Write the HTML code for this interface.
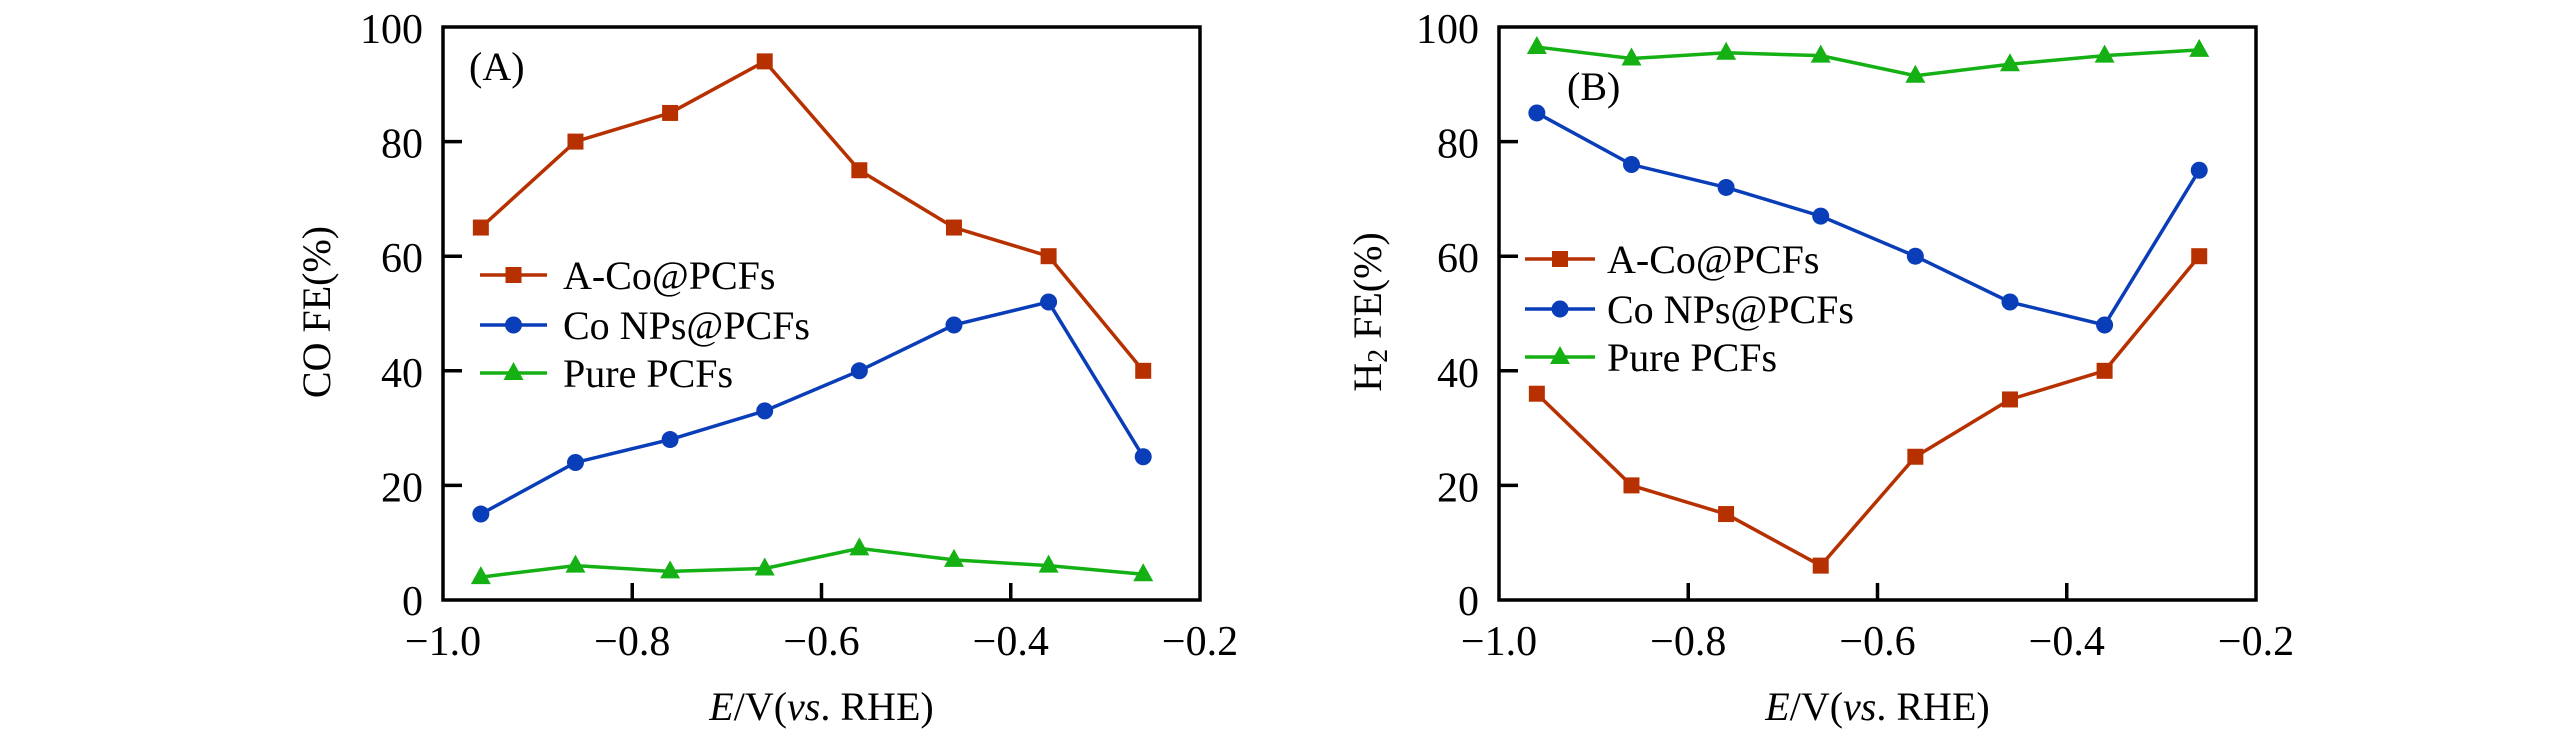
<!DOCTYPE html>
<html><head><meta charset="utf-8">
<style>
html,body{margin:0;padding:0;background:#fff;}
svg{display:block;font-family:"Liberation Serif","Times New Roman",serif;}
</style></head>
<body>
<svg id="fig" width="2567" height="743" viewBox="0 0 2567 743" xmlns="http://www.w3.org/2000/svg"></svg>
<script>
const xValues = [-0.96, -0.86, -0.76, -0.66, -0.56, -0.46, -0.36, -0.26];
const coFeACo = [65, 80, 85, 94, 75, 65, 60, 40];
const coFeCoNP = [15, 24, 28, 33, 40, 48, 52, 25];
const coFePure = [4, 6, 5, 5.5, 9, 7, 6, 4.5];
const h2FeACo = [36, 20, 15, 6, 25, 35, 40, 60];
const h2FeCoNP = [85, 76, 72, 67, 60, 52, 48, 75];
const h2FePure = [96.5, 94.5, 95.5, 95, 91.5, 93.5, 95, 96];
const yTicks = [0, 20, 40, 60, 80, 100];
const xTicks = [-1.0, -0.8, -0.6, -0.4, -0.2];
const xTickLabels = ["\u22121.0", "\u22120.8", "\u22120.6", "\u22120.4", "\u22120.2"];
const seriesNames = ["A-Co@PCFs", "Co NPs@PCFs", "Pure PCFs"];

const NS = "http://www.w3.org/2000/svg";
const svg = document.getElementById("fig");
const RED = "#b73100", BLUE = "#0a3db8", GREEN = "#14b014";
function mk(tag, attrs, parent) {
  const e = document.createElementNS(NS, tag);
  for (const k in attrs) e.setAttribute(k, attrs[k]);
  (parent || svg).appendChild(e);
  return e;
}
function marker(g, type, cx, cy, color) {
  let m;
  if (type === "square") m = mk("rect", {x: cx - 8, y: cy - 8, width: 16, height: 16, fill: color}, g);
  else if (type === "circle") m = mk("circle", {cx: cx, cy: cy, r: 8.5, fill: color}, g);
  else m = mk("polygon", {points: `${cx},${cy - 11} ${cx + 10},${cy + 7} ${cx - 10},${cy + 7}`, fill: color}, g);
  return m;
}
function panel(opts) {
  const L = opts.left, R = opts.left + 757, T = 27, B = 600;
  const xs = v => L + (v + 1.0) / 0.8 * (R - L);
  const ys = v => B - v / 100 * (B - T);
  const g = mk("g", {});
  
  
  // series
  opts.series.forEach(s => {
    const sg = mk("g", {}, g);
    
    
    const pts = xValues.map((x, i) => `${xs(x)},${ys(s.data[i])}`).join(" ");
    const pl = mk("polyline", {points: pts, fill: "none", stroke: s.color, "stroke-width": 3.5}, sg);
    
    
    xValues.forEach((x, i) => {
      const m = marker(sg, s.type, xs(x), ys(s.data[i]), s.color);
      
      
    });
  });
  // frame
  const fr = mk("rect", {x: L, y: T, width: R - L, height: B - T, fill: "none", stroke: "#000", "stroke-width": 3.5}, g);
  
  
  // y ticks
  yTicks.forEach(v => {
    if (v > 0 && v < 100) {
      const t = mk("line", {x1: L, x2: L + 19, y1: ys(v), y2: ys(v), stroke: "#000", "stroke-width": 3.5}, g);
      
      
    }
    const tl = mk("text", {x: L - 20, y: ys(v) + (v === 0 ? 15 : 16), "text-anchor": "end", "font-size": 42}, g);
    tl.textContent = v;
    
    
  });
  xTicks.forEach((v, i) => {
    if (i > 0 && i < xTicks.length - 1) {
      const t = mk("line", {x1: xs(v), x2: xs(v), y1: B, y2: B - 17, stroke: "#000", "stroke-width": 3.5}, g);
      
      
    }
    const tl = mk("text", {x: xs(v), y: 655, "text-anchor": "middle", "font-size": 42}, g);
    tl.textContent = xTickLabels[i];
    
    
  });
  // x title
  const xt = mk("text", {x: (L + R) / 2, y: 720, "text-anchor": "middle", "font-size": 40}, g);
  xt.innerHTML = '<tspan font-style="italic">E</tspan>/V(<tspan font-style="italic">vs</tspan>. RHE)';
  
  
  // y title
  const yt = mk("text", {x: 0, y: 0, "text-anchor": "middle", "font-size": 40, transform: `translate(${opts.ytx},312) rotate(-90)`}, g);
  yt.innerHTML = opts.ytitle;
  
  
  // panel label
  const pl = mk("text", {x: opts.lab[0], y: opts.lab[1], "font-size": 40}, g);
  pl.textContent = opts.label;
  
  
  // legend
  const lg = mk("g", {}, g);
  
  
  opts.series.forEach((s, i) => {
    const y = opts.leg.rows[i];
    const eg = mk("g", {}, lg);
    
    
    mk("line", {x1: opts.leg.x1, x2: opts.leg.x2, y1: y, y2: y, stroke: s.color, "stroke-width": 3.5}, eg);
    marker(eg, s.type, (opts.leg.x1 + opts.leg.x2) / 2, y, s.color);
    const tx = mk("text", {x: opts.leg.tx, y: y + 14, "font-size": 40}, eg);
    tx.textContent = seriesNames[i];
  });
}
panel({
  name: "panel-a", left: 443, label: "(A)", lab: [469, 80], ytx: 330,
  ytitle: "CO FE(%)",
  leg: {x1: 480, x2: 547, tx: 563, rows: [275, 325, 373]},
  series: [
    {id: "a-co-pcfs-co", data: coFeACo, color: RED, type: "square"},
    {id: "co-nps-pcfs-co", data: coFeCoNP, color: BLUE, type: "circle"},
    {id: "pure-pcfs-co", data: coFePure, color: GREEN, type: "triangle"}
  ]
});
panel({
  name: "panel-b", left: 1499, label: "(B)", lab: [1567, 100], ytx: 1381,
  ytitle: 'H<tspan font-size="28" dy="6">2</tspan><tspan dy="-6"> FE(%)</tspan>',
  leg: {x1: 1525, x2: 1595, tx: 1607, rows: [259, 309, 357]},
  series: [
    {id: "a-co-pcfs-h2", data: h2FeACo, color: RED, type: "square"},
    {id: "co-nps-pcfs-h2", data: h2FeCoNP, color: BLUE, type: "circle"},
    {id: "pure-pcfs-h2", data: h2FePure, color: GREEN, type: "triangle"}
  ]
});
</script>
</body></html>
